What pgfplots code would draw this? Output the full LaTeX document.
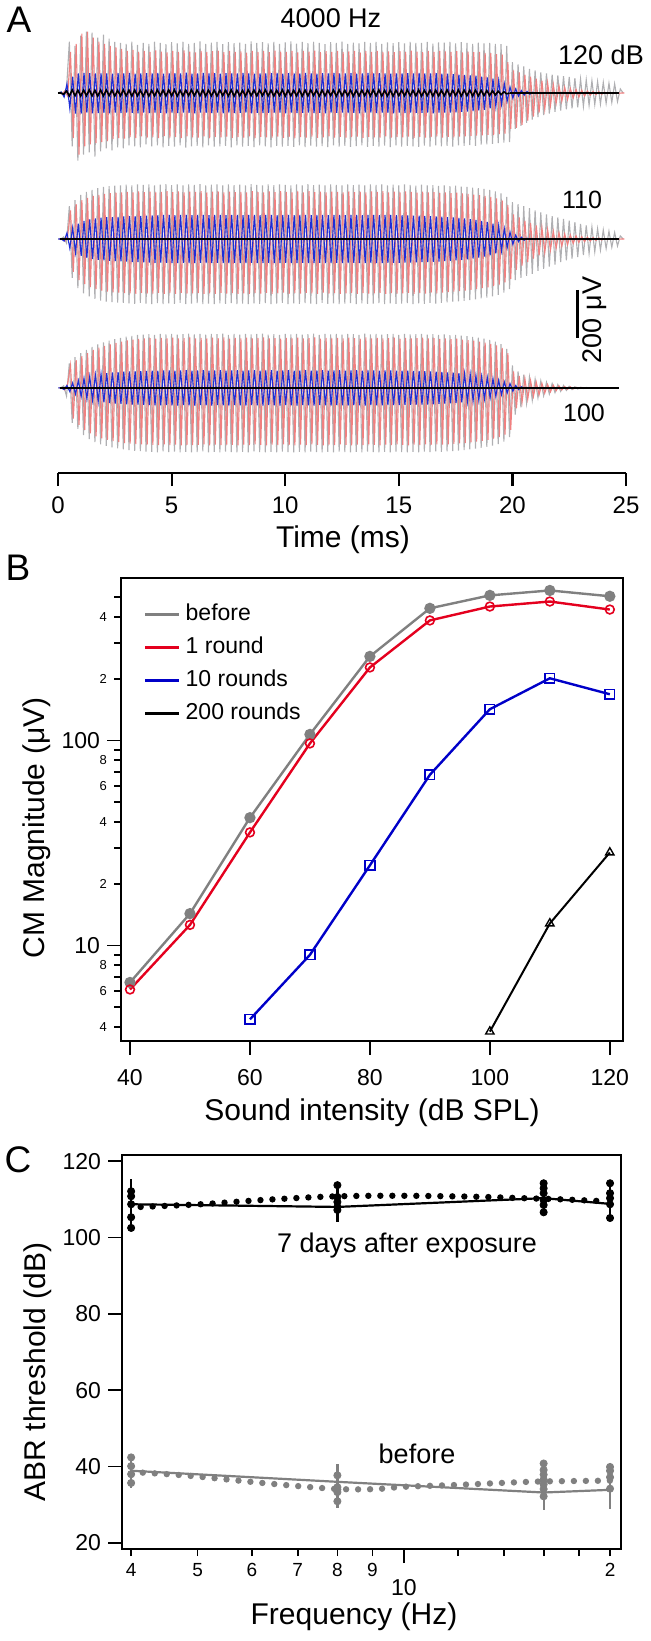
\documentclass[border=0pt]{standalone}
\usepackage{fontspec}
\setmainfont{Liberation Sans}
\usepackage{pgfplots}
\usepackage{pgfplotstable}
\pgfplotsset{compat=1.18}

\newcommand{\fs}[1]{\fontsize{#1}{#1}\selectfont}

\definecolor{trgray}{RGB}{175,175,178}
\definecolor{trpink}{RGB}{240,128,128}
\definecolor{trblue}{RGB}{30,45,215}
\definecolor{bgray}{RGB}{128,128,128}
\definecolor{bred}{RGB}{228,0,30}
\definecolor{bblue}{RGB}{0,0,200}

% ---- panel A: CM traces, one sample per half cycle (0.125 ms), raw units ----
% 120 dB
\pgfplotstableread[row sep=\\]{y\\
0\\5\\-10\\20\\250\\-260\\230\\-330\\
280\\-300\\300\\-290\\295\\-310\\270\\-285\\
285\\-270\\265\\-280\\250\\-265\\245\\-270\\
240\\-255\\250\\-260\\235\\-265\\245\\-250\\
240\\-260\\250\\-255\\245\\-265\\238\\-258\\
248\\-262\\242\\-255\\250\\-266\\240\\-260\\
245\\-258\\252\\-265\\240\\-255\\246\\-262\\
250\\-260\\238\\-258\\248\\-265\\243\\-255\\
246\\-262\\240\\-258\\252\\-264\\244\\-256\\
248\\-260\\242\\-265\\250\\-258\\240\\-262\\
247\\-258\\252\\-263\\241\\-256\\249\\-264\\
243\\-257\\250\\-262\\245\\-259\\238\\-264\\
248\\-256\\244\\-262\\251\\-258\\240\\-263\\
246\\-259\\242\\-255\\249\\-263\\245\\-258\\
250\\-261\\240\\-257\\247\\-264\\243\\-256\\
248\\-262\\242\\-258\\250\\-260\\245\\-263\\
244\\-257\\249\\-262\\241\\-255\\247\\-260\\
246\\-258\\250\\-262\\242\\-256\\248\\-258\\
245\\-254\\240\\-258\\246\\-252\\242\\-250\\
244\\-248\\240\\-245\\238\\-242\\230\\-240\\
150\\-175\\140\\-160\\130\\-145\\118\\-130\\
110\\-118\\100\\-108\\95\\-100\\90\\-92\\
86\\-86\\82\\-80\\78\\-75\\72\\-70\\
68\\-65\\64\\-60\\60\\-56\\56\\-54\\
52\\-50\\48\\-46\\45\\-42\\20\\0\\
}\grayA
\pgfplotstableread[row sep=\\]{y\\
0\\-5\\10\\-15\\200\\-220\\240\\-300\\
290\\-260\\300\\-250\\270\\-245\\250\\-240\\
240\\-235\\230\\-225\\222\\-220\\215\\-222\\
205\\-215\\210\\-220\\200\\-212\\206\\-218\\
200\\-215\\208\\-220\\202\\-210\\198\\-218\\
205\\-214\\200\\-220\\208\\-212\\202\\-216\\
198\\-218\\206\\-212\\200\\-220\\204\\-214\\
207\\-216\\199\\-213\\205\\-219\\201\\-215\\
203\\-217\\197\\-212\\206\\-220\\200\\-214\\
204\\-216\\199\\-218\\207\\-213\\202\\-219\\
200\\-214\\205\\-220\\198\\-215\\206\\-217\\
202\\-213\\207\\-219\\199\\-216\\204\\-212\\
201\\-218\\206\\-214\\200\\-217\\203\\-215\\
205\\-213\\198\\-219\\204\\-214\\200\\-216\\
206\\-217\\201\\-212\\203\\-218\\199\\-215\\
204\\-216\\200\\-213\\207\\-219\\202\\-214\\
199\\-217\\205\\-215\\201\\-212\\206\\-218\\
203\\-214\\200\\-216\\204\\-213\\198\\-212\\
202\\-210\\199\\-208\\200\\-206\\196\\-204\\
195\\-205\\190\\-200\\188\\-198\\150\\-175\\
110\\-170\\100\\-155\\90\\-135\\80\\-115\\
70\\-95\\60\\-78\\50\\-62\\42\\-50\\
35\\-40\\28\\-32\\22\\-25\\18\\-20\\
14\\-15\\10\\-11\\8\\-8\\6\\-6\\
4\\-4\\3\\-3\\2\\-2\\0\\0\\
}\redA
\pgfplotstableread[row sep=\\]{y\\
0\\5\\-20\\45\\-75\\80\\-100\\95\\
-100\\98\\-96\\97\\-99\\95\\-98\\96\\
-97\\95\\-99\\94\\-96\\97\\-98\\95\\
-96\\98\\-97\\94\\-99\\96\\-95\\97\\
-98\\95\\-96\\98\\-97\\94\\-99\\96\\
-95\\97\\-98\\95\\-96\\99\\-97\\94\\
-99\\96\\-95\\98\\-97\\95\\-98\\97\\
-96\\94\\-99\\97\\-95\\96\\-98\\95\\
-97\\98\\-96\\95\\-99\\94\\-97\\96\\
-98\\95\\-97\\97\\-96\\98\\-95\\94\\
-99\\97\\-96\\95\\-98\\96\\-97\\98\\
-95\\96\\-98\\94\\-97\\97\\-99\\95\\
-96\\98\\-97\\95\\-95\\96\\-98\\97\\
-97\\94\\-99\\96\\-96\\98\\-95\\95\\
-98\\97\\-96\\95\\-97\\94\\-99\\96\\
-95\\96\\-98\\97\\-96\\95\\-97\\98\\
-97\\95\\-95\\96\\-99\\97\\-96\\94\\
-96\\94\\-95\\92\\-94\\90\\-92\\88\\
-90\\86\\-88\\84\\-85\\80\\-82\\76\\
-75\\70\\-65\\60\\-55\\45\\-40\\30\\
-25\\20\\-15\\12\\-10\\8\\-6\\4\\
-3\\2\\0\\0\\0\\0\\0\\0\\
}\blueA
\pgfplotstableread[row sep=\\]{y\\
0\\0\\-6\\10\\-14\\15\\-13\\14\\
-15\\14\\-13\\15\\-14\\13\\-15\\14\\
-14\\15\\-13\\14\\-15\\13\\-14\\15\\
-13\\14\\-15\\14\\-14\\13\\-15\\14\\
-15\\13\\-14\\15\\-13\\14\\-14\\15\\
-14\\15\\-15\\13\\-14\\14\\-13\\15\\
-13\\14\\-14\\15\\-15\\14\\-14\\13\\
-15\\14\\-13\\14\\-14\\15\\-15\\13\\
-14\\13\\-15\\15\\-13\\14\\-14\\14\\
-13\\15\\-14\\14\\-15\\13\\-13\\15\\
-15\\14\\-14\\13\\-14\\15\\-15\\14\\
-14\\15\\-13\\14\\-15\\14\\-14\\13\\
-13\\14\\-15\\15\\-14\\13\\-13\\14\\
-15\\13\\-14\\14\\-13\\15\\-14\\15\\
-14\\15\\-15\\13\\-14\\14\\-15\\14\\
-13\\14\\-14\\15\\-13\\13\\-14\\15\\
-15\\13\\-13\\14\\-15\\14\\-14\\13\\
-14\\15\\-14\\13\\-13\\15\\-15\\14\\
-13\\14\\-15\\14\\-14\\13\\-13\\12\\
-12\\11\\-10\\9\\-8\\6\\-4\\0\\
}\blackA
% 110 dB
\pgfplotstableread[row sep=\\]{y\\
0\\0\\10\\-20\\160\\-190\\190\\-240\\
215\\-265\\230\\-280\\240\\-292\\248\\-300\\
254\\-305\\258\\-308\\260\\-310\\262\\-312\\
265\\-314\\262\\-316\\267\\-312\\264\\-315\\
266\\-317\\262\\-313\\265\\-318\\268\\-314\\
263\\-316\\266\\-312\\262\\-317\\267\\-315\\
264\\-313\\268\\-317\\261\\-315\\265\\-318\\
266\\-314\\262\\-316\\267\\-313\\263\\-318\\
265\\-315\\261\\-318\\268\\-314\\264\\-316\\
262\\-313\\266\\-317\\263\\-315\\267\\-312\\
264\\-318\\261\\-314\\266\\-316\\262\\-313\\
268\\-315\\263\\-318\\265\\-312\\262\\-316\\
266\\-314\\264\\-317\\261\\-315\\267\\-313\\
263\\-318\\265\\-314\\262\\-316\\266\\-315\\
264\\-313\\267\\-317\\261\\-314\\265\\-316\\
262\\-315\\266\\-313\\264\\-318\\260\\-314\\
265\\-316\\261\\-312\\263\\-315\\259\\-311\\
262\\-309\\258\\-306\\260\\-304\\256\\-302\\
254\\-298\\251\\-295\\248\\-290\\244\\-286\\
240\\-280\\232\\-272\\222\\-262\\205\\-245\\
180\\-200\\170\\-190\\160\\-180\\150\\-170\\
140\\-155\\130\\-145\\120\\-135\\112\\-125\\
105\\-112\\98\\-104\\90\\-95\\82\\-88\\
74\\-78\\66\\-70\\58\\-62\\50\\-54\\
44\\-46\\38\\-40\\32\\-34\\15\\0\\
}\grayB
\pgfplotstableread[row sep=\\]{y\\
0\\0\\-10\\15\\140\\-160\\170\\-200\\
190\\-220\\200\\-235\\210\\-245\\215\\-252\\
220\\-256\\224\\-260\\226\\-262\\228\\-264\\
230\\-265\\228\\-267\\232\\-263\\229\\-266\\
231\\-266\\228\\-263\\230\\-268\\233\\-264\\
229\\-267\\232\\-263\\228\\-266\\231\\-265\\
230\\-264\\233\\-268\\227\\-265\\231\\-267\\
232\\-263\\228\\-266\\231\\-264\\229\\-268\\
230\\-265\\227\\-268\\233\\-264\\229\\-266\\
228\\-263\\232\\-267\\229\\-265\\233\\-262\\
230\\-268\\227\\-264\\232\\-266\\228\\-263\\
233\\-265\\229\\-268\\231\\-262\\228\\-266\\
231\\-264\\230\\-267\\227\\-265\\232\\-263\\
229\\-268\\231\\-264\\228\\-266\\232\\-265\\
230\\-263\\233\\-267\\227\\-264\\231\\-266\\
228\\-265\\232\\-263\\230\\-268\\226\\-264\\
231\\-266\\227\\-262\\229\\-265\\225\\-261\\
228\\-259\\224\\-256\\226\\-254\\222\\-252\\
220\\-248\\217\\-245\\214\\-240\\210\\-236\\
205\\-230\\198\\-222\\188\\-212\\165\\-195\\
120\\-150\\105\\-130\\90\\-112\\78\\-96\\
66\\-80\\55\\-66\\46\\-54\\38\\-44\\
31\\-35\\25\\-28\\20\\-22\\16\\-17\\
12\\-13\\9\\-10\\7\\-7\\5\\-5\\
3\\-3\\2\\-2\\1\\-1\\0\\0\\
}\redB
\pgfplotstableread[row sep=\\]{y\\
0\\0\\-10\\30\\-45\\55\\-65\\75\\
-82\\88\\-92\\95\\-98\\100\\-102\\104\\
-104\\106\\-106\\107\\-108\\108\\-109\\110\\
-110\\111\\-112\\112\\-113\\113\\-114\\114\\
-115\\115\\-116\\116\\-115\\117\\-116\\117\\
-117\\116\\-118\\117\\-116\\118\\-117\\116\\
-118\\117\\-116\\118\\-117\\116\\-118\\117\\
-116\\118\\-117\\116\\-118\\117\\-116\\118\\
-117\\116\\-118\\117\\-116\\118\\-117\\116\\
-118\\117\\-116\\118\\-117\\116\\-118\\117\\
-116\\118\\-117\\116\\-118\\117\\-116\\118\\
-117\\116\\-118\\117\\-116\\118\\-117\\116\\
-118\\117\\-116\\118\\-117\\116\\-118\\117\\
-116\\118\\-117\\116\\-118\\117\\-116\\118\\
-117\\116\\-118\\117\\-116\\117\\-116\\116\\
-116\\116\\-115\\115\\-115\\114\\-114\\114\\
-113\\113\\-112\\112\\-111\\110\\-110\\109\\
-108\\107\\-106\\105\\-104\\103\\-102\\100\\
-99\\97\\-95\\93\\-91\\88\\-86\\83\\
-79\\75\\-70\\64\\-57\\50\\-42\\34\\
-26\\19\\-13\\9\\-6\\4\\-2\\0\\
}\blueB
% 100 dB
\pgfplotstableread[row sep=\\]{y\\
0\\0\\10\\-40\\120\\-170\\150\\-200\\
170\\-230\\185\\-250\\200\\-265\\212\\-275\\
222\\-283\\230\\-290\\238\\-295\\244\\-300\\
250\\-304\\254\\-307\\258\\-309\\260\\-311\\
262\\-312\\259\\-314\\263\\-310\\261\\-313\\
264\\-311\\260\\-315\\262\\-312\\265\\-314\\
261\\-313\\263\\-310\\260\\-315\\264\\-312\\
262\\-314\\265\\-311\\259\\-313\\263\\-315\\
260\\-312\\264\\-314\\261\\-310\\263\\-313\\
265\\-315\\260\\-312\\262\\-314\\259\\-311\\
263\\-313\\261\\-315\\264\\-312\\260\\-314\\
262\\-311\\265\\-313\\259\\-315\\263\\-312\\
261\\-314\\263\\-311\\260\\-313\\264\\-315\\
262\\-312\\259\\-314\\265\\-311\\261\\-313\\
263\\-315\\260\\-312\\262\\-314\\264\\-311\\
259\\-313\\263\\-315\\261\\-312\\262\\-314\\
264\\-311\\260\\-313\\262\\-310\\258\\-312\\
261\\-310\\257\\-308\\259\\-306\\255\\-304\\
252\\-300\\249\\-296\\245\\-292\\240\\-288\\
234\\-282\\226\\-274\\214\\-262\\190\\-240\\
110\\-130\\80\\-95\\65\\-75\\52\\-60\\
42\\-48\\34\\-38\\27\\-30\\21\\-23\\
16\\-17\\12\\-12\\8\\-8\\5\\-5\\
3\\-3\\2\\-2\\1\\-1\\0\\0\\
}\grayC
\pgfplotstableread[row sep=\\]{y\\
0\\0\\-10\\20\\110\\-150\\135\\-180\\
155\\-205\\170\\-222\\185\\-236\\196\\-246\\
205\\-254\\212\\-260\\220\\-265\\226\\-269\\
232\\-272\\236\\-274\\239\\-276\\241\\-277\\
243\\-278\\240\\-279\\244\\-276\\242\\-279\\
245\\-277\\241\\-280\\243\\-278\\246\\-279\\
242\\-278\\244\\-276\\241\\-280\\245\\-277\\
243\\-279\\246\\-277\\240\\-278\\244\\-280\\
241\\-277\\245\\-279\\242\\-276\\244\\-278\\
246\\-280\\241\\-277\\243\\-279\\240\\-276\\
244\\-278\\242\\-280\\245\\-277\\241\\-279\\
243\\-276\\246\\-278\\240\\-280\\244\\-277\\
242\\-279\\244\\-276\\241\\-278\\245\\-280\\
243\\-277\\240\\-279\\246\\-276\\242\\-278\\
244\\-280\\241\\-277\\243\\-279\\245\\-276\\
240\\-278\\244\\-280\\242\\-277\\243\\-279\\
245\\-276\\241\\-278\\243\\-275\\239\\-277\\
242\\-275\\238\\-273\\240\\-271\\236\\-269\\
233\\-266\\230\\-262\\226\\-258\\221\\-254\\
215\\-248\\207\\-240\\195\\-228\\170\\-205\\
80\\-100\\58\\-70\\45\\-55\\36\\-42\\
28\\-33\\22\\-25\\17\\-19\\13\\-14\\
10\\-10\\7\\-7\\5\\-5\\3\\-3\\
2\\-2\\1\\-1\\0\\0\\0\\0\\
}\redC
\pgfplotstableread[row sep=\\]{y\\
0\\0\\-8\\12\\-18\\24\\-30\\36\\
-42\\47\\-52\\56\\-60\\63\\-66\\68\\
-70\\72\\-74\\75\\-76\\77\\-78\\79\\
-80\\80\\-81\\81\\-82\\82\\-83\\83\\
-84\\84\\-85\\84\\-85\\85\\-84\\85\\
-85\\84\\-86\\85\\-84\\86\\-85\\84\\
-86\\85\\-84\\86\\-85\\84\\-86\\85\\
-84\\86\\-85\\84\\-86\\85\\-84\\86\\
-85\\84\\-86\\85\\-84\\86\\-85\\84\\
-86\\85\\-84\\86\\-85\\84\\-86\\85\\
-84\\86\\-85\\84\\-86\\85\\-84\\86\\
-85\\84\\-86\\85\\-84\\86\\-85\\84\\
-86\\85\\-84\\86\\-85\\84\\-86\\85\\
-84\\86\\-85\\84\\-86\\85\\-84\\85\\
-85\\84\\-85\\85\\-84\\85\\-84\\84\\
-84\\84\\-83\\84\\-83\\83\\-82\\83\\
-82\\81\\-81\\80\\-80\\79\\-78\\78\\
-77\\76\\-75\\74\\-73\\72\\-70\\69\\
-67\\65\\-63\\61\\-59\\56\\-54\\51\\
-48\\45\\-41\\37\\-33\\29\\-25\\21\\
-16\\12\\-8\\5\\-3\\2\\-1\\0\\
}\blueC

% ---- panel B: CM magnitude (uV) vs sound intensity ----
\pgfplotstableread{
x y
40 6.6
50 14.3
60 42
70 107
80 257
90 441
100 510
110 539
120 505
}\cmBefore
\pgfplotstableread{
x y
40 6.1
50 12.6
60 35.6
70 96.7
80 227
90 385
100 450
110 476
120 435
}\cmOne
\pgfplotstableread{
x y
60 4.36
70 9.0
80 24.6
90 68
100 142
110 201
120 168
}\cmTen
\pgfplotstableread{
x y
100 3.8
110 12.8
120 28.4
}\cmTwoHundred

% ---- panel C: ABR thresholds ----
\pgfplotstableread{
f m ep em
4 108.7 6.6 6.4
8 108.0 6.2 4.0
16 110.3 4.5 4.4
20 108.8 6.2 4.3
}\abrAfter
\pgfplotstableread{
f y
4 112.1
4 110.8
4 108.7
4 105.3
4 102.5
8 113.7
8 110.6
8 109.3
8 108.0
8 107.2
16 114.2
16 112.9
16 111.6
16 109.8
16 108.5
16 106.6
20 114.2
20 111.6
20 110.3
20 108.7
20 105.1
}\abrAfterPts
\pgfplotstableread{
f y
4.13 108.0
5.05 108.7
6.19 109.8
7.59 110.65
8.73 110.9
10.47 110.9
12.9 110.65
14.86 110.3
16.9 110.0
19.6 109.5
}\abrAfterFit
\pgfplotstableread{
f m ep em
4 38.9 4.3 4.4
8 36.0 4.6 6.8
16 33.2 8.1 4.5
20 33.9 6.3 5.0
}\abrBefore
\pgfplotstableread{
f y
4 42.4
4 40.1
4 38.0
4 35.7
8 37.7
8 34.6
8 34.0
8 33.3
8 30.9
16 40.8
16 39.1
16 37.9
16 36.6
16 35.3
16 34.1
16 32.2
20 39.9
20 38.9
20 37.2
20 34.2
}\abrBeforePts
\pgfplotstableread{
f y
4.16 38.4
4.85 37.6
5.98 36.0
6.88 35.0
8.04 34.1
9.1 34.1
10 34.7
12 35.2
13.85 35.7
15.94 36.1
20 36.3
}\abrBeforeFit

% trace styles: raw units -> uV (x0.855), each level on its own baseline
\pgfplotsset{
  lvlA/.style={y filter/.expression={y*0.855}},
  lvlB/.style={y filter/.expression={y*0.855-609}},
  lvlC/.style={y filter/.expression={y*0.855-1230}},
}

\begin{document}
\begin{tikzpicture}
\useasboundingbox (0,0) rectangle (325pt,-820.5pt);

% ================= A =================
\begin{axis}[
  at={(29pt,-236.5pt)}, anchor=south west, scale only axis,
  width=284pt, height=236.5pt,
  xmin=0, xmax=25, ymin=-1585, ymax=388,
  axis x line=bottom, axis y line=none,
  axis line style={-, line width=1.1pt},
  xtick={0,5,...,25}, tick align=outside, major tick length=6.5pt,
  tick style={line width=1.1pt, black},
  tick label style={font=\fs{12}},
  xticklabel style={yshift=-2pt},
  /pgf/number format/assume math mode=true,
  clip=false,
]
% 120 dB
\addplot[trgray, line width=0.55pt, lvlA] table[x expr=\coordindex*0.125, y index=0] {\grayA};
\addplot[trpink, line width=0.55pt, lvlA] table[x expr=\coordindex*0.125+0.05, y index=0] {\redA};
\addplot[trblue, line width=0.55pt, lvlA] table[x expr=\coordindex*0.125+0.02, y index=0] {\blueA};
\addplot[black, line width=0.8pt, lvlA] table[x expr=\coordindex*0.125, y index=0] {\blackA};
\addplot[black, line width=0.8pt] coordinates {(19.9,0) (24.7,0)};
% 110 dB
\addplot[trgray, line width=0.55pt, lvlB] table[x expr=\coordindex*0.125, y index=0] {\grayB};
\addplot[trpink, line width=0.55pt, lvlB] table[x expr=\coordindex*0.125+0.05, y index=0] {\redB};
\addplot[trblue, line width=0.55pt, lvlB] table[x expr=\coordindex*0.125+0.02, y index=0] {\blueB};
\addplot[black, line width=0.9pt] coordinates {(0.1,-609) (24.7,-609)};
% 100 dB
\addplot[trgray, line width=0.55pt, lvlC] table[x expr=\coordindex*0.125, y index=0] {\grayC};
\addplot[trpink, line width=0.55pt, lvlC] table[x expr=\coordindex*0.125+0.05, y index=0] {\redC};
\addplot[trblue, line width=0.55pt, lvlC] table[x expr=\coordindex*0.125+0.02, y index=0] {\blueC};
\addplot[black, line width=0.9pt] coordinates {(0.1,-1230) (24.7,-1230)};
% 200 uV scale bar
\draw[line width=1.5pt] (axis cs:22.85,-821) -- (axis cs:22.85,-1021);
\end{axis}

% ================= B =================
\begin{axis}[
  at={(60.5pt,-520.5pt)}, anchor=south west, scale only axis,
  width=251pt, height=231.5pt,
  xmin=38.5, xmax=122.2, ymode=log, ymin=3.42, ymax=620,
  axis line style={line width=0.9pt},
  tick style={line width=0.9pt, black},
  tick align=outside, xtick pos=bottom, ytick pos=left,
  major tick length=7pt, minor tick length=3.5pt,
  xtick={40,60,...,120},
  ytick={10,100}, yticklabels={10,100},
  minor ytick={5,7,9,30,50,70,90,300,500},
  extra y ticks={4,6,8,20,40,60,80,200,400},
  extra y tick labels={4,6,8,2,4,6,8,2,4},
  extra y tick style={major tick length=3.5pt,
    tick label style={font=\fs{6.5}}},
  tick label style={font=\fs{11.5}},
  xticklabel style={yshift=-3.5pt},
  /pgf/number format/assume math mode=true,
  legend image code/.code={\draw[#1] (0pt,0pt) -- (17pt,0pt);},
  legend style={draw=none, fill=none, font=\fs{11.5},
    at={(rel axis cs:0.044,0.957)}, anchor=north west,
    inner sep=0pt, row sep=0.5pt,
    nodes={inner sep=2.5pt, text height=8.5pt, text depth=2.5pt}},
  legend cell align=left,
]
\addlegendimage{bgray, line width=1.6pt}\addlegendentry{before}
\addlegendimage{bred, line width=1.6pt}\addlegendentry{1 round}
\addlegendimage{bblue, line width=1.6pt}\addlegendentry{10 rounds}
\addlegendimage{black, line width=1.6pt}\addlegendentry{200 rounds}
\addplot[bgray, line width=1.2pt, mark=*, mark size=2.2pt, forget plot] table {\cmBefore};
\addplot[bred, line width=1.2pt, mark=o, mark size=2.2pt, mark options={fill=white, line width=0.8pt}, forget plot] table {\cmOne};
\addplot[bblue, line width=1.2pt, mark=square, mark size=2.4pt, mark options={fill=white, line width=0.8pt}, forget plot] table {\cmTen};
\addplot[black, line width=1.0pt, mark=triangle, mark size=2.4pt, mark options={fill=white, line width=0.7pt}, forget plot] table {\cmTwoHundred};
\end{axis}

% ================= C =================
\begin{axis}[
  at={(61pt,-774.5pt)}, anchor=south west, scale only axis,
  width=249.5pt, height=197pt,
  xmode=log, xmin=3.88, xmax=20.75, ymin=18.4, ymax=121.6,
  axis line style={line width=0.9pt},
  tick style={line width=0.9pt, black},
  tick align=outside, xtick pos=bottom, ytick pos=left,
  major tick length=7pt, minor tick length=3.5pt,
  ytick={20,40,...,120},
  xtick={10}, xticklabels={\rule{0pt}{12.7pt}10},
  minor xtick={12,14,16,18},
  extra x ticks={4,5,6,7,8,9,20},
  extra x tick labels={4,5,6,7,8,9,2},
  extra x tick style={major tick length=3.5pt,
    tick label style={font=\fs{9.5}}},
  tick label style={font=\fs{11.5}},
  /pgf/number format/assume math mode=true,
]
\addplot[black, line width=3.2pt, line cap=round, dash pattern=on 0pt off 6pt, smooth] table[x=f, y=y] {\abrAfterFit};
\addplot[black, line width=1.1pt, error bars/.cd, y dir=both, y explicit, error mark=none,
  error bar style={line width=1.1pt}]
  table[x=f, y=m, y error plus=ep, y error minus=em] {\abrAfter};
\addplot[only marks, mark=*, mark size=1.8pt, black] table[x=f, y=y] {\abrAfterPts};
\addplot[bgray, line width=3.2pt, line cap=round, dash pattern=on 0pt off 6pt, smooth] table[x=f, y=y] {\abrBeforeFit};
\addplot[bgray, line width=1.1pt, error bars/.cd, y dir=both, y explicit, error mark=none,
  error bar style={line width=1.1pt, bgray}]
  table[x=f, y=m, y error plus=ep, y error minus=em] {\abrBefore};
\addplot[only marks, mark=*, mark size=1.8pt, bgray] table[x=f, y=y] {\abrBeforePts};
\end{axis}

% ================= texts =================
\node[font=\fs{18.5}] at (9.5pt,-10pt) {A};
\node[font=\fs{13.5}] at (165.5pt,-9pt) {4000 Hz};
\node[font=\fs{13.5}] at (300.5pt,-27.5pt) {120 dB};
\node[font=\fs{12.5}] at (291pt,-100pt) {110};
\node[font=\fs{12.5}] at (292pt,-206.5pt) {100};
\node[font=\fs{13.5}, rotate=90] at (297.5pt,-160pt) {200 μV};
\node[font=\fs{15}] at (171.5pt,-270pt) {Time (ms)};

\node[font=\fs{18.5}] at (9pt,-284pt) {B};
\node[font=\fs{15}] at (186pt,-556.5pt) {Sound intensity (dB SPL)};
\node[font=\fs{15}, rotate=90] at (18.5pt,-414pt) {CM Magnitude (μV)};

\node[font=\fs{18.5}] at (9pt,-580pt) {C};
\node[font=\fs{15}, rotate=90] at (19pt,-686pt) {ABR threshold (dB)};
\node[font=\fs{15}] at (177pt,-808.5pt) {Frequency (Hz)};
\node[font=\fs{13.5}] at (203.5pt,-623pt) {7 days after exposure};
\node[font=\fs{13.5}] at (208.5pt,-727pt) {before};
\end{tikzpicture}
\end{document}
